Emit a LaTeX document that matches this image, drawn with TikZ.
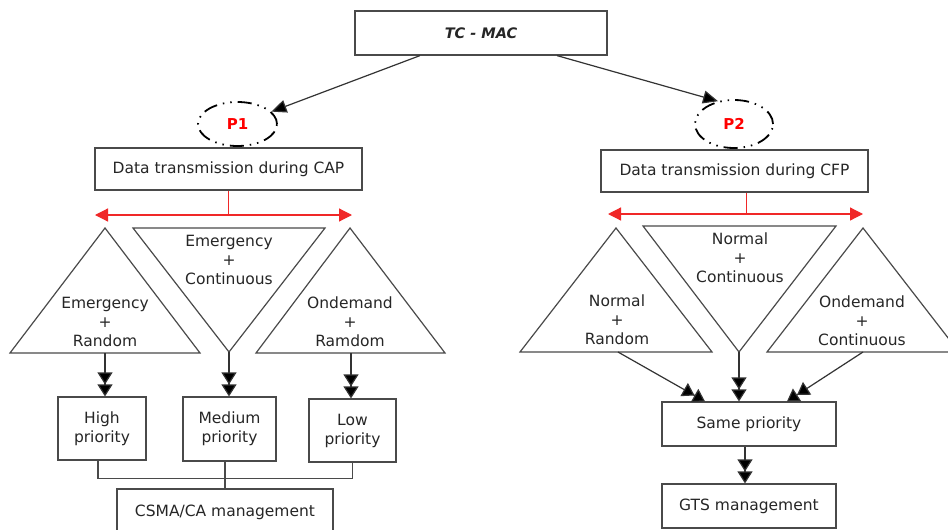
\documentclass[tikz,border=0pt]{standalone}
\usepackage{fontspec}
\setmainfont{DejaVu Sans}
\usetikzlibrary{shapes.geometric,arrows.meta}
\definecolor{linegray}{HTML}{4A4A4A}
\definecolor{txtgray}{HTML}{262626}
\definecolor{redline}{HTML}{F02828}
\tikzset{
  box/.style={draw=linegray, line width=1.2pt, inner sep=0pt, align=center, text=txtgray},
  tri/.style={draw=linegray, line width=1.2pt, line join=miter},
  lbl/.style={align=center, text=txtgray, inner sep=0pt},
  phase/.style={ellipse, draw=black, line width=1.8pt, dash pattern=on 14pt off 6pt on 1.5pt off 6pt on 1.5pt off 6pt, text=red, font=\fontsize{15}{17}\selectfont\bfseries, inner sep=0pt},
  arr/.style={draw=black!80, line width=1.2pt, -{Triangle[length=15pt,width=13pt,fill=black]}},
  dbl/.style={draw=black!80, line width=1.2pt, -{Triangle[length=12pt,width=15pt,fill=black]Triangle[length=12pt,width=15pt,fill=black]}},
  redarr/.style={draw=redline, line width=1.2pt, {Triangle[length=13pt,width=13pt]}-{Triangle[length=13pt,width=13pt]}}
}
\begin{document}
\begin{tikzpicture}[x=1pt,y=-1pt, font=\fontsize{15.5}{19}\selectfont]
\clip (0,0) rectangle (948,530);
\fill[white] (0,0) rectangle (948,530);
% top
\node[box, minimum width=252pt, minimum height=44pt, font=\fontsize{14.5}{16}\selectfont\bfseries\itshape] (tcmac) at (481,33) {TC - MAC};
\node[phase, minimum width=79pt, minimum height=44pt] (p1) at (237.5,124) {P1};
\node[phase, minimum width=78pt, minimum height=48pt] (p2) at (734,124) {P2};
\draw[arr] ([xshift=-61pt]tcmac.south) -- (p1.20);
\draw[arr] ([xshift=76pt]tcmac.south) -- (p2.125);
% left branch
\node[box, minimum width=267pt, minimum height=42pt] (cap) at (228.5,169) {Data transmission during CAP};
\coordinate (capl) at (95,215);
\coordinate (capr) at (352,215);
\draw[redline, line width=1.2pt] (cap.south) -- (cap.south |- capl);
\draw[redarr] (capl) -- (capr);
\draw[tri] (105,228) -- (10,353) -- (200,353) -- cycle;
\draw[tri] (133,228) -- (325,228) -- (229,352) -- cycle;
\draw[tri] (350,228) -- (256,353) -- (445,353) -- cycle;
\node[lbl] (emran) at (105,322) {Emergency\\+\\Random};
\node[lbl] (emcon) at (229,260) {Emergency\\+\\Continuous};
\node[lbl] (odran) at (350,322) {Ondemand\\+\\Ramdom};
\coordinate (emrant) at (105,353);
\coordinate (emcont) at (229,352);
\coordinate (odrant) at (351,353);
\node[box, minimum width=88pt, minimum height=63pt] (high) at (102,428.5) {High\\priority};
\node[box, minimum width=93pt, minimum height=64pt] (medium) at (229.5,429) {Medium\\priority};
\node[box, minimum width=87pt, minimum height=63pt] (low) at (352.5,430.5) {Low\\priority};
\draw[dbl] (emrant) -- (emrant |- high.north);
\draw[dbl] (emcont) -- (emcont |- medium.north);
\draw[dbl] (odrant) -- (odrant |- low.north);
\node[box, minimum width=216pt, minimum height=46pt] (csma) at (225,512) {CSMA/CA management};
\draw[linegray, line width=1.2pt] ([xshift=-4pt]high.south) -- ++(0,18) -| (low.south);
\draw[linegray, line width=1.2pt] (csma.north) -- (csma.north |- medium.south);
% right branch
\node[box, minimum width=267pt, minimum height=42pt] (cfp) at (734.5,171) {Data transmission during CFP};
\coordinate (cfpl) at (608,214);
\coordinate (cfpr) at (863,214);
\draw[redline, line width=1.2pt] ([xshift=12pt]cfp.south) -- ([xshift=12pt]cfp.south |- cfpl);
\draw[redarr] (cfpl) -- (cfpr);
\draw[tri] (616,228) -- (520,352) -- (712,352) -- cycle;
\draw[tri] (643,226) -- (836,226) -- (739,352) -- cycle;
\draw[tri] (863,228) -- (767,352) -- (959,352) -- cycle;
\node[lbl] (noran) at (617,320) {Normal\\+\\Random};
\node[lbl] (nocon) at (740,258) {Normal\\+\\Continuous};
\node[lbl] (odcon) at (862,321) {Ondemand\\+\\Continuous};
\coordinate (norant) at (618,352);
\coordinate (nocont) at (739,352);
\coordinate (odcont) at (863,352);
\node[box, minimum width=174pt, minimum height=44pt] (same) at (749,424) {Same priority};
\node[box, minimum width=174pt, minimum height=44pt] (gts) at (749,506) {GTS management};
\draw[dbl] (norant) -- ([xshift=-44pt]same.north);
\draw[dbl] (nocont) -- (nocont |- same.north);
\draw[dbl] (odcont) -- ([xshift=38pt]same.north);
\draw[dbl] ([xshift=-4pt]same.south) -- ([xshift=-4pt]gts.north);
\end{tikzpicture}
\end{document}
